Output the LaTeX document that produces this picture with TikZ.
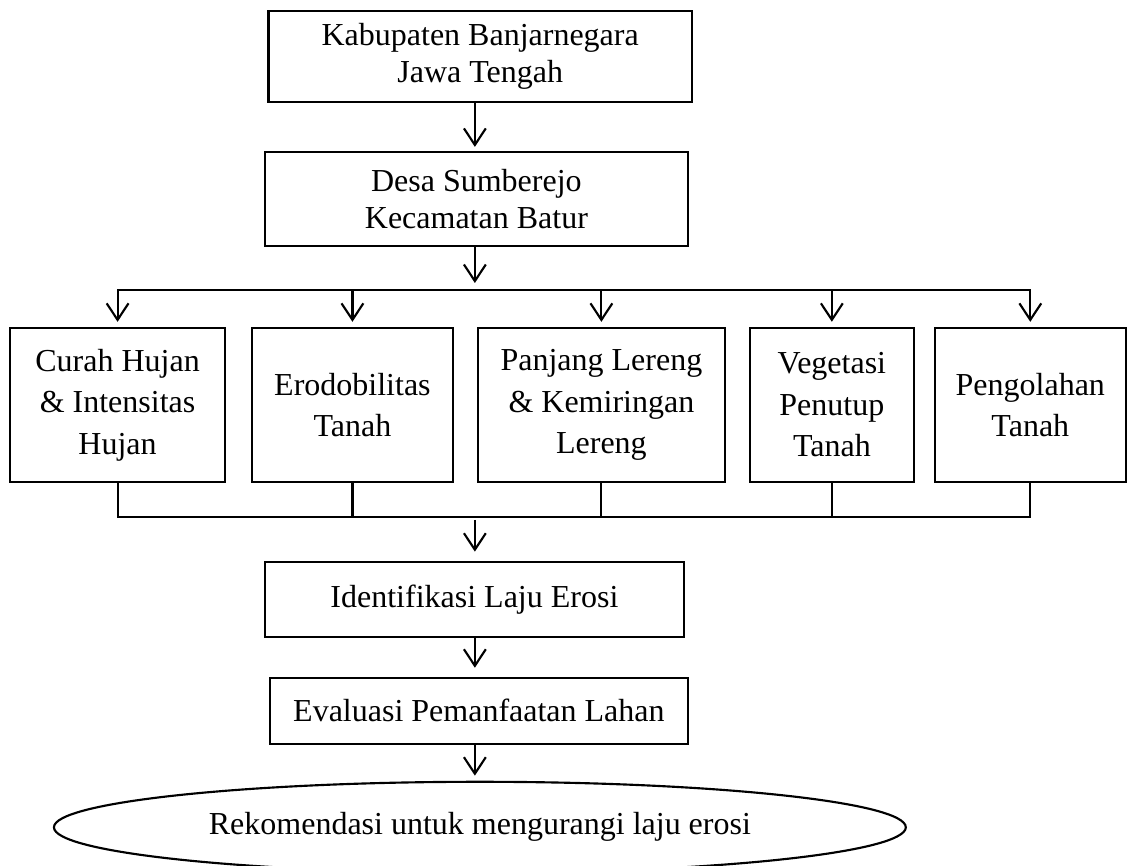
\documentclass[tikz,border=0pt]{standalone}
\usepackage{fontspec}
\setmainfont{Liberation Serif}
\usetikzlibrary{arrows.meta,positioning,shapes.geometric}

\begin{document}
\begin{tikzpicture}[
    box/.style={draw, line width=0.8pt, align=center, inner sep=2pt,
      font=\fontsize{12pt}{13.8pt}\selectfont},
    factor/.style={box, minimum height=2.03cm,
      font=\fontsize{12pt}{15.6pt}\selectfont},
    arr/.style={-{Straight Barb[length=6.2pt,width=8.2pt,line width=0.8pt]}, line width=0.8pt},
    link/.style={line width=0.8pt, line cap=rect}
  ]
    \useasboundingbox (0,0) rectangle (14.87,-11.41);
    % Lokasi penelitian
    \node[box, minimum width=5.58cm, minimum height=1.2cm] (kab) at (6.33,-0.745) {Kabupaten Banjarnegara\\Jawa Tengah};
    \node[box, minimum width=5.58cm, minimum height=1.24cm] (desa) at (6.28,-2.623) {Desa Sumberejo\\Kecamatan Batur};
    % Faktor-faktor erosi
    \node[factor, minimum width=2.83cm] (hujan) at (1.55,-5.338) {Curah Hujan\\\& Intensitas\\Hujan};
    \node[factor, minimum width=2.65cm] (tanah) at (4.646,-5.338) {Erodobilitas\\Tanah};
    \node[factor, minimum width=3.255cm] (lereng) at (7.928,-5.338) {Panjang Lereng\\\& Kemiringan\\Lereng};
    \node[factor, minimum width=2.162cm] (vegetasi) at (10.966,-5.338) {Vegetasi\\Penutup\\Tanah};
    \node[factor, minimum width=2.517cm] (olah) at (13.582,-5.338) {Pengolahan\\Tanah};
    % Analisis dan hasil
    \node[box, minimum width=5.52cm, minimum height=0.99cm] (laju) at (6.254,-7.901) {Identifikasi Laju Erosi};
    \node[box, minimum width=5.51cm, minimum height=0.87cm] (evaluasi) at (6.313,-9.371) {Evaluasi Pemanfaatan Lahan};
    \node[draw, ellipse, line width=0.8pt, inner sep=0pt, minimum width=11.23cm, minimum height=1.2cm,
      font=\fontsize{12pt}{13.8pt}\selectfont] (rekomendasi) at (6.326,-10.906) {Rekomendasi untuk mengurangi laju erosi};
    % Garis bantu
    \coordinate (mid) at (6.26,0);
    \coordinate (bus) at (0,-3.822);
    \coordinate (sum) at (0,-6.814);
    % Alur atas
    \draw[arr, shorten >=1.5pt] (kab.south -| mid) -- (desa.north -| mid);
    \draw[arr, shorten >=2.6pt] (desa.south -| mid) -- (bus -| mid);
    \draw[link] (hujan.north |- bus) -- (olah.north |- bus);
    \foreach \n in {hujan,tanah,lereng,vegetasi,olah} {
      \draw[arr, shorten >=1.9pt] (\n.north |- bus) -- (\n.north);
      \draw[link] (\n.south) -- (\n.south |- sum);
    }
    \draw[link] (hujan.south |- sum) -- (olah.south |- sum);
    % Alur bawah
    \draw[arr, shorten <=1.1pt, shorten >=3.4pt] (sum -| mid) -- (laju.north -| mid);
    \draw[arr, shorten >=3.4pt] (laju.south -| mid) -- (evaluasi.north -| mid);
    \draw[arr, shorten >=1.9pt] (evaluasi.south -| mid) -- (rekomendasi.north -| mid);
\end{tikzpicture}
\end{document}
